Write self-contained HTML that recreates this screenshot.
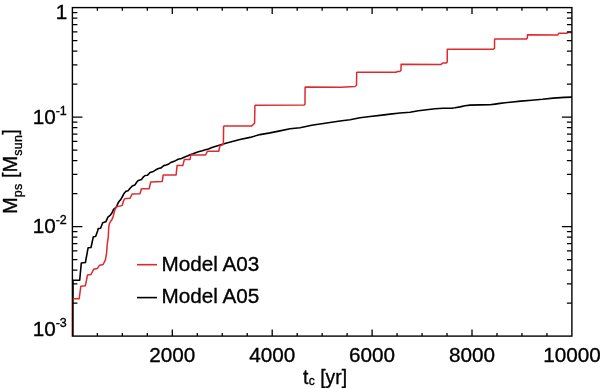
<!DOCTYPE html>
<html><head><meta charset="utf-8"><style>
html,body{margin:0;padding:0;background:#fff;}
body{width:600px;height:388px;overflow:hidden;}
svg{display:block;}
text{font-family:"Liberation Sans",Arial,Helvetica,sans-serif;fill:#000;stroke:#000;stroke-width:0.35px;}
</style></head><body>
<svg width="600" height="388" viewBox="0 0 600 388">
<rect width="600" height="388" fill="#fff"/>
<polyline points="73.0,336.0 73.0,280.3 79.7,280.3 81.3,263.0 85.4,262.5 88.1,247.8 91.0,247.5 93.3,236.8 95.6,236.5 97.6,231.0 98.2,228.6 100.6,228.3 102.7,222.8 105.8,221.8 107.9,217.2 110.4,215.1 112.5,212.0 113.5,209.4 116.1,207.4 117.1,205.3 118.2,202.7 119.2,201.2 120.7,199.6 123.3,195.0 124.2,193.2 126.0,191.2 128.1,190.7 130.1,188.2 132.2,186.1 134.8,185.1 136.8,182.0 138.4,180.4 141.5,179.4 143.5,176.8 145.1,175.5 147.5,175.3 150.0,172.4 153.4,171.4 155.9,169.8 158.5,168.5 161.1,167.9 163.7,165.6 166.3,165.0 168.8,164.0 170.8,162.4 173.4,161.4 175.0,160.9 178.2,159.3 181.4,158.4 184.7,157.1 187.9,155.7 190.0,154.7 193.2,153.7 196.2,152.4 199.3,151.6 202.3,150.8 205.4,149.8 208.4,149.0 212.0,147.5 220.0,145.0 226.7,143.0 233.3,141.3 240.0,139.5 250.0,137.4 260.0,134.6 270.0,132.9 280.0,130.9 290.0,128.8 300.0,127.8 311.7,125.3 320.0,124.0 328.3,122.8 340.0,121.0 350.0,119.8 360.0,117.8 370.0,116.5 380.0,115.4 390.0,114.1 400.0,113.0 410.0,112.3 418.3,110.8 426.7,109.8 435.0,108.8 443.3,108.3 451.7,108.2 455.0,107.8 460.0,106.9 465.0,105.7 470.0,105.1 480.0,104.9 490.0,104.7 495.0,104.1 500.0,103.4 505.0,102.8 510.0,102.2 520.8,101.1 531.7,100.2 542.5,99.3 553.3,98.1 564.2,97.4 572.0,97.1" fill="none" stroke="#000" stroke-width="1.6" stroke-linejoin="round"/>
<polyline points="72.9,336.0 72.9,298.7 79.2,298.7 80.8,286.3 85.4,285.7 87.5,275.0 91.0,274.5 93.6,269.3 97.3,268.6 99.6,265.2 103.1,264.5 105.4,259.8 106.6,252.8 107.2,244.7 108.3,236.6 108.7,228.0 109.3,223.8 110.3,221.8 111.5,220.3 113.0,217.2 114.0,213.0 115.1,209.4 116.1,207.4 117.6,206.3 120.7,205.9 122.3,205.3 123.3,201.5 124.4,199.1 126.0,198.4 130.1,198.3 132.0,194.0 139.9,193.8 141.5,188.7 149.2,188.7 150.7,182.0 162.2,181.6 163.2,174.9 176.1,174.9 177.1,165.6 182.8,165.6 184.4,159.4 190.1,159.4 190.7,154.9 205.5,155.0 207.5,151.2 218.7,151.2 220.0,145.8 222.0,145.0 223.4,144.5 223.6,126.4 224.2,126.0 251.5,126.1 254.6,123.2 254.9,105.6 255.5,105.2 304.2,105.0 305.0,104.2 305.1,87.2 305.8,87.0 341.0,87.2 355.0,86.5 356.5,85.5 356.7,72.5 357.4,72.3 396.0,72.3 397.5,71.5 399.8,71.4 401.0,70.5 401.1,64.3 401.8,64.2 440.8,64.6 442.7,63.0 446.3,63.0 447.2,62.0 447.3,49.3 448.0,49.2 493.4,49.3 494.5,48.3 494.6,39.1 495.3,38.9 526.5,39.0 527.4,38.0 527.5,34.8 528.2,34.7 557.8,34.9 558.9,33.2 566.5,33.2 568.1,32.5 572.0,32.4" fill="none" stroke="#de2a2e" stroke-width="1.5" stroke-linejoin="round"/>
<rect x="72.4" y="7.6" width="499.50" height="328.50" fill="none" stroke="#000" stroke-width="1.4"/>
<path d="M97.38 336.10v-3.2M97.38 7.60v3.2M122.35 336.10v-3.2M122.35 7.60v3.2M147.32 336.10v-3.2M147.32 7.60v3.2M172.30 336.10v-6.5M172.30 7.60v6.5M197.28 336.10v-3.2M197.28 7.60v3.2M222.25 336.10v-3.2M222.25 7.60v3.2M247.22 336.10v-3.2M247.22 7.60v3.2M272.20 336.10v-6.5M272.20 7.60v6.5M297.18 336.10v-3.2M297.18 7.60v3.2M322.15 336.10v-3.2M322.15 7.60v3.2M347.12 336.10v-3.2M347.12 7.60v3.2M372.10 336.10v-6.5M372.10 7.60v6.5M397.08 336.10v-3.2M397.08 7.60v3.2M422.05 336.10v-3.2M422.05 7.60v3.2M447.02 336.10v-3.2M447.02 7.60v3.2M472.00 336.10v-6.5M472.00 7.60v6.5M496.98 336.10v-3.2M496.98 7.60v3.2M521.95 336.10v-3.2M521.95 7.60v3.2M546.92 336.10v-3.2M546.92 7.60v3.2M72.40 303.14h5M571.90 303.14h-5M72.40 283.86h5M571.90 283.86h-5M72.40 270.17h5M571.90 270.17h-5M72.40 259.56h5M571.90 259.56h-5M72.40 250.89h5M571.90 250.89h-5M72.40 243.56h5M571.90 243.56h-5M72.40 237.21h5M571.90 237.21h-5M72.40 231.61h5M571.90 231.61h-5M72.40 226.60h10M571.90 226.60h-10M72.40 193.64h5M571.90 193.64h-5M72.40 174.36h5M571.90 174.36h-5M72.40 160.67h5M571.90 160.67h-5M72.40 150.06h5M571.90 150.06h-5M72.40 141.39h5M571.90 141.39h-5M72.40 134.06h5M571.90 134.06h-5M72.40 127.71h5M571.90 127.71h-5M72.40 122.11h5M571.90 122.11h-5M72.40 117.10h10M571.90 117.10h-10M72.40 84.14h5M571.90 84.14h-5M72.40 64.86h5M571.90 64.86h-5M72.40 51.17h5M571.90 51.17h-5M72.40 40.56h5M571.90 40.56h-5M72.40 31.89h5M571.90 31.89h-5M72.40 24.56h5M571.90 24.56h-5M72.40 18.21h5M571.90 18.21h-5M72.40 12.61h5M571.90 12.61h-5" stroke="#000" stroke-width="1.3" fill="none"/>
<g font-size="20.7">
<text x="67.3" y="19" text-anchor="end">1</text>
<text x="32.7" y="124">10<tspan font-size="12.5" dy="-9.5">-1</tspan></text>
<text x="32.7" y="233.3">10<tspan font-size="12.5" dy="-9.5">-2</tspan></text>
<text x="32.7" y="336">10<tspan font-size="12.5" dy="-9.5">-3</tspan></text>
<text x="172.3" y="362" text-anchor="middle">2000</text>
<text x="272.2" y="362" text-anchor="middle">4000</text>
<text x="372.1" y="362" text-anchor="middle">6000</text>
<text x="472.0" y="362" text-anchor="middle">8000</text>
<text x="571.9" y="362" text-anchor="middle">10000</text>
<text x="303" y="383.8" font-size="19.3">t<tspan font-size="12" dx="0.5" dy="1.2">c</tspan><tspan dy="-1.2"> [yr]</tspan></text>
<text transform="translate(17,214) rotate(-90)" font-size="20">M<tspan font-size="12.5" letter-spacing="0.3" dy="5">ps</tspan><tspan dy="-5"> [M</tspan><tspan font-size="12.5" letter-spacing="0.3" dy="5">sun</tspan><tspan dy="-5">]</tspan></text>
<text x="161.6" y="270.6">Model A03</text>
<text x="161.6" y="303.3">Model A05</text>
</g>
<path d="M137 264.7H157" stroke="#de2a2e" stroke-width="1.6"/>
<path d="M137 297.6H157" stroke="#000" stroke-width="1.6"/>
</svg>
</body></html>
